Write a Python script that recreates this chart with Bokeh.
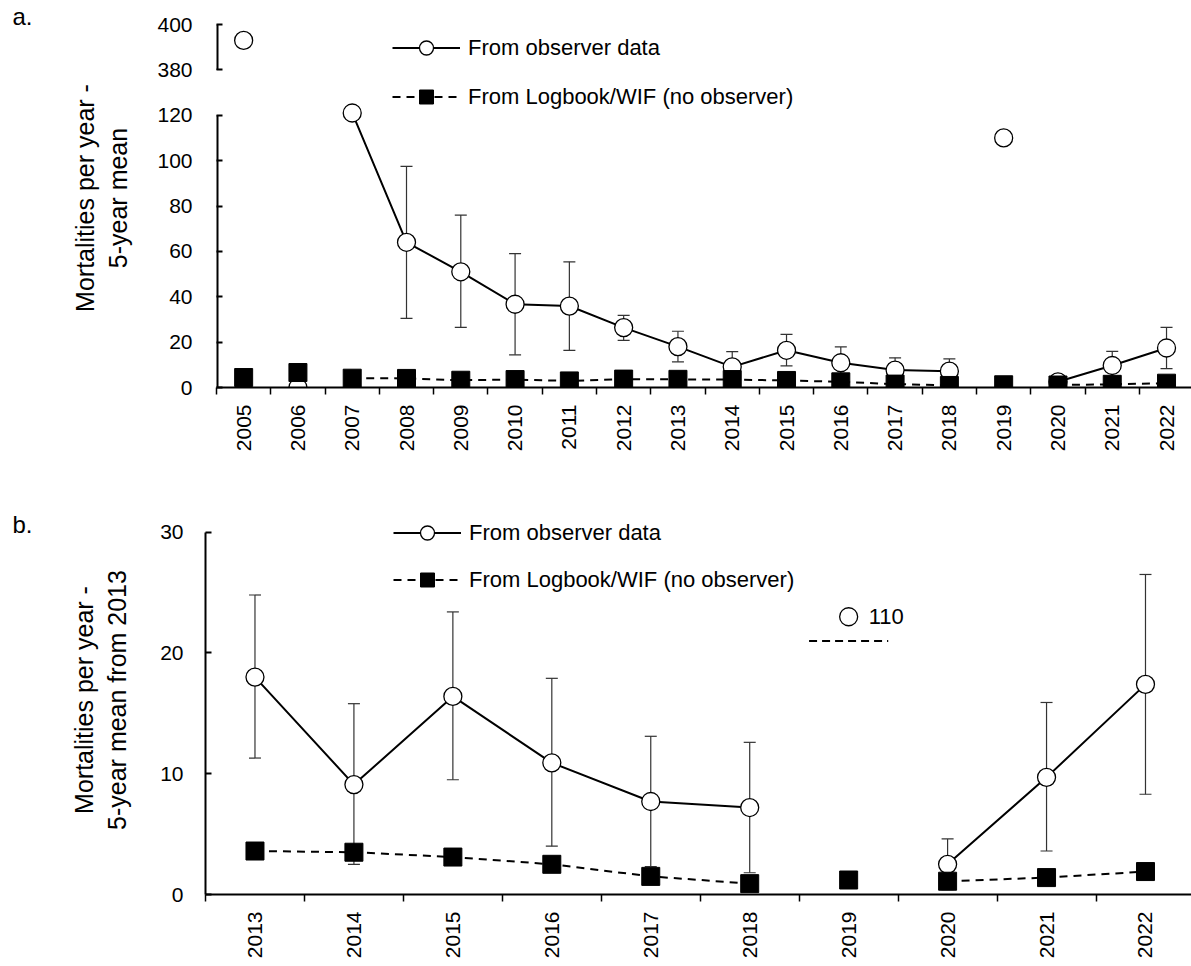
import math
from bokeh.plotting import figure
from bokeh.layouts import column, row
from bokeh.models import (ColumnDataSource, FixedTicker, Whisker, TeeHead, Legend,
                          LegendItem, Label, Range1d)
from bokeh.embed import file_html
from bokeh.resources import INLINE

nan = float("nan")

# ---------------- data ----------------
years = list(range(2005, 2023))
observer = [393, 0, 121, 64, 51, 36.7, 35.9, 26.4, 18.0, 9.1, 16.4, 10.9, 7.7, 7.2, 110, 2.5, 9.7, 17.4]
observer_lower = [nan, nan, nan, 30.5, 26.5, 14.4, 16.4, 20.8, 11.3, 2.5, 9.5, 4.0, 2.3, 1.8, nan, 0.4, 3.6, 8.3]
observer_upper = [nan, nan, nan, 97.5, 76.0, 59.0, 55.4, 31.8, 24.8, 15.8, 23.4, 17.9, 13.1, 12.6, nan, 4.6, 15.9, 26.5]
logbook = [4.4, 6.6, 4.1, 4.0, 3.2, 3.5, 2.9, 3.7, 3.6, 3.5, 3.1, 2.5, 1.5, 0.9, 1.2, 1.1, 1.4, 1.9]
unjoined_years = [2005, 2006, 2019]          # points not joined by the lines

# panel a: broken y axis
a_ticks = [0, 20, 40, 60, 80, 100, 120, 380, 400]
a_axis_segments = [(0, 120), (380, 400)]
break_low, break_high, break_gap = 120, 380, 20

# panel b: from 2013
b_first_year = 2013
b_ticks = [0, 10, 20, 30]
b_offscale_year = 2019
b_offscale_label = "110"
b_offscale_pos = 23.0      # where the off-scale point is shown
b_offscale_dash = 21.0

FONT = "Liberation Sans"
LETTER_W = 44


def to_axis(v):
    if v != v:
        return v
    return v if v < break_high else v - (break_high - break_low) + break_gap


def style_common(p, yrs):
    p.outline_line_color = None
    p.xgrid.visible = False
    p.ygrid.visible = False
    p.background_fill_color = "white"
    p.border_fill_color = "white"
    n = len(yrs)
    xa = p.xaxis[0]
    xa.ticker = FixedTicker(ticks=[i + 0.5 for i in range(n)], minor_ticks=list(range(n + 1)))
    xa.major_label_overrides = {i + 0.5: str(y) for i, y in enumerate(yrs)}
    xa.major_label_orientation = math.pi / 2
    xa.major_tick_line_color = None
    xa.major_tick_in = 0
    xa.major_tick_out = 0
    xa.minor_tick_in = 0
    xa.minor_tick_out = 7
    xa.minor_tick_line_color = "black"
    xa.minor_tick_line_width = 1.5
    xa.axis_line_width = 2
    xa.axis_line_color = "black"
    xa.major_label_standoff = 10
    xa.major_label_text_font = FONT
    xa.major_label_text_font_size = "21px"
    xa.major_label_text_color = "black"
    ya = p.yaxis[0]
    ya.major_tick_in = 6
    ya.major_tick_out = 0
    ya.minor_tick_line_color = None
    ya.major_tick_line_width = 2
    ya.major_tick_line_color = "black"
    ya.axis_line_width = 2
    ya.axis_line_color = "black"
    ya.major_label_text_font = FONT
    ya.major_label_text_font_size = "21px"
    ya.major_label_text_color = "black"
    ya.axis_label_text_font = FONT
    ya.axis_label_text_font_size = "25px"
    ya.axis_label_text_font_style = "normal"
    ya.axis_label_text_color = "black"


def letter_fig(text, height, top, bottom, baseline_from_top):
    frame_h = height - top - bottom
    f = figure(width=LETTER_W, height=height, output_backend="svg", toolbar_location=None,
               x_range=Range1d(0, LETTER_W), y_range=Range1d(0, frame_h),
               x_axis_location=None, y_axis_location=None,
               min_border_left=0, min_border_right=0,
               min_border_top=top, min_border_bottom=bottom)
    f.outline_line_color = None
    f.xgrid.visible = False
    f.ygrid.visible = False
    f.background_fill_color = "white"
    f.border_fill_color = "white"
    f.add_layout(Label(x=12, y=frame_h - (baseline_from_top - top), text=text, text_font=FONT,
                       text_font_size="24px", text_baseline="alphabetic", text_color="black"))
    return f


def add_series(p, yrs, obs, obs_lo, obs_hi, log, mapf):
    xs = [i + 0.5 for i in range(len(yrs))]
    obs_line = [nan if y in unjoined_years else mapf(v) for y, v in zip(yrs, obs)]
    log_line = [nan if y in unjoined_years else mapf(v) for y, v in zip(yrs, log)]
    src = ColumnDataSource(dict(x=xs, obs=[mapf(v) for v in obs], obs_line=obs_line,
                                log=[mapf(v) for v in log], log_line=log_line))
    wx, wl, wu = [], [], []
    for x, lo, hi in zip(xs, obs_lo, obs_hi):
        if lo == lo and hi == hi:
            wx.append(x); wl.append(mapf(lo)); wu.append(mapf(hi))
    wsrc = ColumnDataSource(dict(x=wx, lower=wl, upper=wu))
    w = Whisker(source=wsrc, base="x", lower="lower", upper="upper",
                line_color="#333333", line_width=1.2, level="underlay",
                upper_head=TeeHead(size=12, line_color="#333333", line_width=1.2),
                lower_head=TeeHead(size=12, line_color="#333333", line_width=1.2))
    p.add_layout(w)
    r_ol = p.line("x", "obs_line", source=src, line_color="black", line_width=2)
    r_op = p.scatter("x", "obs", source=src, marker="circle", size=18, fill_color="white",
                     line_color="black", line_width=1.3)
    r_ll = p.line("x", "log_line", source=src, line_color="black", line_width=2, line_dash="8 6")
    r_lp = p.scatter("x", "log", source=src, marker="square", size=18, fill_color="black",
                     line_color="black", line_width=1)
    return r_ol, r_op, r_ll, r_lp


def add_legend(p, rs, loc, spacing):
    r_ol, r_op, r_ll, r_lp = rs
    lg = Legend(items=[LegendItem(label="From observer data", renderers=[r_ol, r_op]),
                       LegendItem(label="From Logbook/WIF (no observer)", renderers=[r_ll, r_lp])],
                location=loc, glyph_width=68, glyph_height=35, label_standoff=8,
                spacing=spacing, padding=0, margin=0, border_line_color=None,
                background_fill_alpha=0, label_text_font=FONT, label_text_font_size="22px",
                label_text_color="black")
    p.add_layout(lg)


# ---------------- panel a ----------------
A_H, A_TOP, A_BOTTOM = 470, 8, 83
a_frame_h = A_H - A_TOP - A_BOTTOM
a_px_per_unit = 363 / 160.0
pa = figure(width=1191 - LETTER_W, height=A_H, output_backend="svg", toolbar_location=None,
            x_range=Range1d(0, 17.96), y_range=Range1d(0, a_frame_h / a_px_per_unit),
            min_border_left=216 - LETTER_W, min_border_right=0,
            min_border_top=A_TOP, min_border_bottom=A_BOTTOM)
style_common(pa, years)
ya = pa.yaxis[0]
ya.ticker = FixedTicker(ticks=[to_axis(t) for t in a_ticks])
ya.major_label_overrides = {to_axis(t): str(t) for t in a_ticks}
ya.axis_line_color = None
ya.major_label_standoff = 24
ya.axis_label = "Mortalities per year -\n5-year mean"
ya.axis_label_standoff = 22
pa.segment(x0=[0] * len(a_axis_segments), x1=[0] * len(a_axis_segments),
           y0=[to_axis(s[0]) for s in a_axis_segments], y1=[to_axis(s[1]) for s in a_axis_segments],
           line_color="black", line_width=4)
rs_a = add_series(pa, years, observer, observer_lower, observer_upper, logbook, to_axis)
add_legend(pa, rs_a, (176, 273), 14)
la = letter_fig("a.", A_H, A_TOP, A_BOTTOM, 16)

# ---------------- panel b ----------------
k = years.index(b_first_year)
yrs_b = years[k:]
B_H, B_TOP, B_BOTTOM = 496, 35, 72
b_frame_h = B_H - B_TOP - B_BOTTOM
b_px_per_unit = 362.3 / 30.0
pb = figure(width=1191 - LETTER_W, height=B_H, output_backend="svg", toolbar_location=None,
            x_range=Range1d(0, 9.965), y_range=Range1d(0, b_frame_h / b_px_per_unit),
            min_border_left=205 - LETTER_W, min_border_right=0,
            min_border_top=B_TOP, min_border_bottom=B_BOTTOM)
style_common(pb, yrs_b)
yb = pb.yaxis[0]
yb.ticker = FixedTicker(ticks=b_ticks)
yb.bounds = (b_ticks[0], b_ticks[-1])
yb.major_label_standoff = 22
yb.axis_label = "Mortalities per year -\n5-year mean from 2013"
yb.axis_label_standoff = 26


def clip_b(v):
    return nan if v > b_ticks[-1] else v


obs_b = [clip_b(v) for v in observer[k:]]
rs_b = add_series(pb, yrs_b, obs_b, observer_lower[k:], observer_upper[k:], logbook[k:], lambda v: v)
add_legend(pb, rs_b, (188, 297), 12)

xo = yrs_b.index(b_offscale_year) + 0.5
off_src = ColumnDataSource(dict(x=[xo], y=[b_offscale_pos]))
pb.scatter("x", "y", source=off_src, marker="circle", size=18, fill_color="white",
           line_color="black", line_width=1.3)
pb.add_layout(Label(x=xo, y=b_offscale_pos, x_offset=20, text=b_offscale_label,
                    text_font=FONT, text_font_size="22px", text_baseline="middle", text_color="black"))
dash_src = ColumnDataSource(dict(x0=[xo - 0.4], x1=[xo + 0.4], y=[b_offscale_dash]))
pb.segment(x0="x0", x1="x1", y0="y", y1="y", source=dash_src, line_color="black",
           line_width=2, line_dash="8 5")
lb = letter_fig("b.", B_H, B_TOP, B_BOTTOM, 524 - 470)

layout = column(row(la, pa, spacing=0), row(lb, pb, spacing=0), spacing=0)
open("out.html", "w").write(file_html(layout, INLINE))
